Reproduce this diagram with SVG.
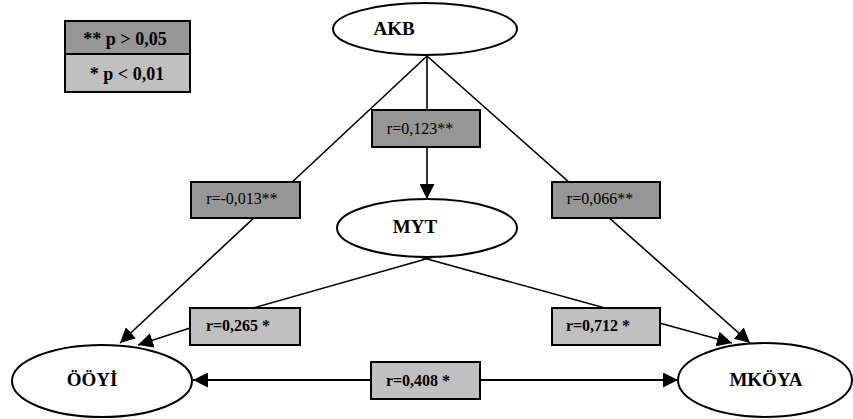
<svg xmlns="http://www.w3.org/2000/svg" width="853" height="419" viewBox="0 0 853 419">
<style>
.bg{fill:#fff}
.node{fill:#fff;stroke:#000;stroke-width:2}
.dark{fill:#969696;stroke:#000;stroke-width:2}
.light{fill:#c0c0c0;stroke:#000;stroke-width:2}
.edge{fill:none;stroke:#000;stroke-width:1.6}
text{font-family:"Liberation Serif","Times New Roman",serif;fill:#000}
.nl{font-size:19px;font-weight:bold}
.bl{font-size:16px;font-weight:bold}
.rl{font-size:16px}
.lg{font-size:18px;font-weight:bold}
</style>
<defs>
<marker id="ah" viewBox="0 0 10 10" refX="10" refY="5" markerWidth="15" markerHeight="15" markerUnits="userSpaceOnUse" orient="auto-start-reverse">
<path d="M0,0 L10,5 L0,10 z" fill="#000"/>
</marker>
</defs>
<rect class="bg" x="0" y="0" width="853" height="419"/>
<g id="connectors">
<line class="edge" x1="427" y1="56" x2="120" y2="343" marker-end="url(#ah)"/>
<line class="edge" x1="427" y1="56" x2="427" y2="199" marker-end="url(#ah)"/>
<line class="edge" x1="427" y1="56" x2="750" y2="343" marker-end="url(#ah)"/>
<polyline class="edge" points="433,257 253,308 190,328 138,345" marker-end="url(#ah)"/>
<line class="edge" x1="420" y1="257" x2="732" y2="343" marker-end="url(#ah)"/>
<line class="edge" style="stroke-width:2" x1="193" y1="380" x2="678" y2="380" marker-start="url(#ah)" marker-end="url(#ah)"/>
</g>
<g id="legend">
<rect class="dark" x="65" y="21" width="125" height="33"/>
<rect class="light" x="65" y="54" width="125" height="38"/>
<text class="lg" x="125" y="45" text-anchor="middle">** p &gt; 0,05</text>
<text class="lg" x="127" y="80" text-anchor="middle">* p &lt; 0,01</text>
</g>
<g id="AKB">
<ellipse class="node" cx="425" cy="29" rx="92" ry="26"/>
<text class="nl" x="394" y="35" text-anchor="middle">AKB</text>
</g>
<g id="MYT">
<ellipse class="node" cx="427" cy="228" rx="90" ry="29"/>
<text class="nl" x="415" y="233" text-anchor="middle">MYT</text>
</g>
<g id="OOYI">
<ellipse class="node" cx="102" cy="381" rx="90" ry="36"/>
<text class="nl" x="92" y="386" text-anchor="middle">ÖÖYİ</text>
</g>
<g id="MKOYA">
<ellipse class="node" cx="765" cy="380" rx="87" ry="37"/>
<text class="nl" x="766" y="386" text-anchor="middle">MKÖYA</text>
</g>
<g id="r123">
<rect class="dark" x="372" y="110" width="108" height="37"/>
<text class="rl" x="420" y="134" text-anchor="middle">r=0,123**</text>
</g>
<g id="r013">
<rect class="dark" x="191" y="182" width="109" height="36"/>
<text class="rl" x="242" y="204" text-anchor="middle">r=-0,013**</text>
</g>
<g id="r066">
<rect class="dark" x="552" y="182" width="108" height="36"/>
<text class="rl" x="600" y="204" text-anchor="middle">r=0,066**</text>
</g>
<g id="r265">
<rect class="light" x="190" y="308" width="110" height="37"/>
<text class="bl" x="238" y="331" text-anchor="middle">r=0,265 *</text>
</g>
<g id="r712">
<rect class="light" x="552" y="308" width="108" height="37"/>
<text class="bl" x="598" y="331" text-anchor="middle">r=0,712 *</text>
</g>
<g id="r408">
<rect class="light" x="371" y="362" width="109" height="37"/>
<text class="bl" x="418" y="386" text-anchor="middle">r=0,408 *</text>
</g>
</svg>
